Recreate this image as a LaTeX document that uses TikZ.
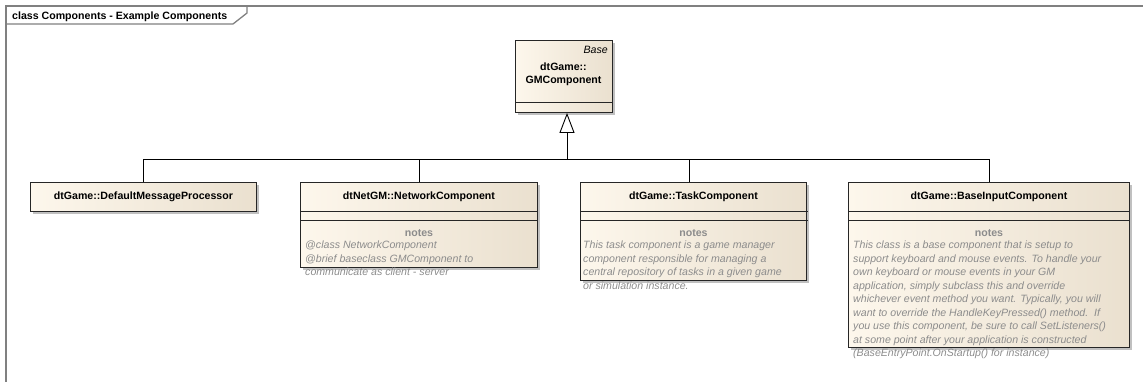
\documentclass[tikz,border=0pt]{standalone}
\usepackage{fontspec}
\setmainfont{Liberation Sans}
\usetikzlibrary{arrows.meta,shadows,calc}
\definecolor{boxL}{RGB}{253,247,236}
\definecolor{boxR}{RGB}{234,224,207}
\definecolor{framec}{RGB}{128,128,128}
\definecolor{notec}{RGB}{140,140,140}
\begin{document}
\begin{tikzpicture}[x=1pt,y=-1pt,
  cls/.style={draw=black!85, line width=0.9pt, left color=boxL, right color=boxR,
    drop shadow={shadow xshift=3pt, shadow yshift=-3pt, fill=black!45, opacity=.55},
    anchor=north west, inner sep=0pt},
  clsname/.style={font=\fontsize{10.6}{12}\selectfont\bfseries, inner sep=0pt},
  notehead/.style={font=\fontsize{10.6}{12}\selectfont\bfseries, text=notec, inner sep=0pt, anchor=base},
  notebody/.style={font=\fontsize{10.6}{13.5}\selectfont\itshape, text=notec, inner sep=0pt, align=left, anchor=north west},
  comp/.style={draw=black!85, line width=0.9pt},
  conn/.style={draw=black, line width=0.9pt},
  fr/.style={draw=framec, line width=1.3pt}]
\useasboundingbox (0,0) rectangle (1143,381);
% frame
\draw[fr] (6,385) -- (6,6) -- (1147,6);
\draw[fr] (6,24) -- (233,24) -- (247,13) -- (247,6);
\node[font=\fontsize{10.6}{12}\selectfont\bfseries, anchor=base west, inner sep=0pt] (title) at (12,19) {class Components - Example Components};

% base class
\node[cls, minimum width=97pt, minimum height=72pt] (base) at (515,40) {};
\node[font=\fontsize{10.6}{12}\selectfont\itshape, anchor=base east, inner sep=0pt] (baseste) at (608,53) {Base};
\node[clsname] (basen1) at (563.5,67) {dtGame::};
\node[clsname] (basen2) at (563.5,81) {GMComponent};
\draw[comp] ($(base.north west)+(0,62)$) -- ($(base.north east)+(0,62)$);

% child classes
\node[cls, minimum width=226pt, minimum height=29pt] (c1) at (30,182) {};
\node[clsname] (c1n) at ($(c1.north)+(0,15)$) {dtGame::DefaultMessageProcessor};

\node[cls, minimum width=237pt, minimum height=85pt] (c2) at (300,182) {};
\node[clsname] (c2n) at ($(c2.north)+(0,15)$) {dtNetGM::NetworkComponent};
\draw[comp] ($(c2.north west)+(0,29)$) -- ($(c2.north east)+(0,29)$);
\draw[comp] ($(c2.north west)+(0,38)$) -- ($(c2.north east)+(0,38)$);
\node[notehead] (c2h) at ($(c2.north)+(0,54)$) {notes};
\node[notebody] (c2b) at (305,241) {@class NetworkComponent\\@brief baseclass GMComponent to\\communicate as client - server};

\node[cls, minimum width=226pt, minimum height=98pt] (c3) at (580,182) {};
\node[clsname] (c3n) at ($(c3.north)+(0,15)$) {dtGame::TaskComponent};
\draw[comp] ($(c3.north west)+(0,29)$) -- ($(c3.north east)+(1,29)$);
\draw[comp] ($(c3.north west)+(0,38)$) -- ($(c3.north east)+(1,38)$);
\node[notehead] (c3h) at ($(c3.north)+(0,54)$) {notes};
\node[notebody] (c3b) at (583,241) {This task component is a game manager\\component responsible for managing a\\central repository of tasks in a given game\\or simulation instance.};

\node[cls, minimum width=281pt, minimum height=165pt] (c4) at (848,182) {};
\node[clsname] (c4n) at ($(c4.north)+(0,15)$) {dtGame::BaseInputComponent};
\draw[comp] ($(c4.north west)+(0,29)$) -- ($(c4.north east)+(0,29)$);
\draw[comp] ($(c4.north west)+(0,38)$) -- ($(c4.north east)+(0,38)$);
\node[notehead] (c4h) at ($(c4.north)+(0,54)$) {notes};
\node[notebody] (c4b) at (853,241) {This class is a base component that is setup to\\support keyboard and mouse events. To handle your\\own keyboard or mouse events in your GM\\application, simply subclass this and override\\whichever event method you want. Typically, you will\\want to override the HandleKeyPressed() method.\ \ If\\you use this component, be sure to call SetListeners()\\at some point after your application is constructed\\(BaseEntryPoint.OnStartup() for instance)};

% generalization tree
\coordinate (bus) at (567,159);
\coordinate (c3top) at (689,182);
\draw[conn] (c1.north) -- (c1.north |- bus) -- (c4.north |- bus) -- (c4.north);
\draw[conn] (c2.north) -- (c2.north |- bus);
\draw[conn] (c3top) -- (c3top |- bus);
\draw[conn, -{Triangle[open, length=20pt, width=15pt, fill=white]}] (bus) -- (bus |- base.south);
\end{tikzpicture}
\end{document}
